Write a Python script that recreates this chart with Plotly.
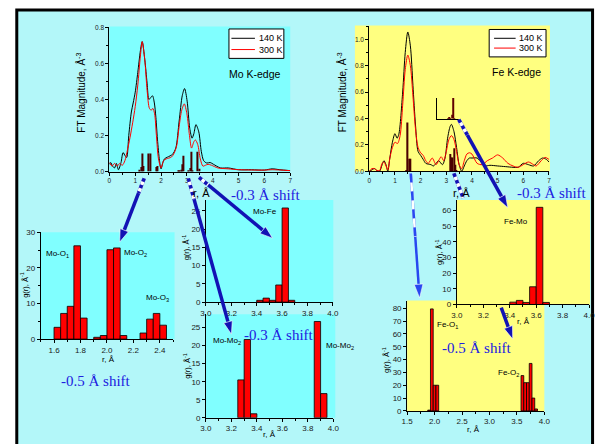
import math
import plotly.graph_objects as go

W, H = 602, 444
SANS = "Liberation Sans, Arial, sans-serif"
SERIF = "Liberation Serif, Times New Roman, serif"

# ---------------- DATA ----------------
# Mo K-edge FT magnitude
mo_r_140 = [0.0, 0.05, 0.12, 0.2, 0.27, 0.35, 0.45, 0.53, 0.62, 0.67, 0.75, 0.85, 0.92, 1.0, 1.1, 1.2, 1.27,
            1.37, 1.46, 1.53, 1.6, 1.67, 1.74, 1.8, 1.86, 1.94, 2.0, 2.07, 2.13, 2.25, 2.44, 2.57, 2.7, 2.82,
            2.91, 3.01, 3.11, 3.2, 3.27, 3.35, 3.46, 3.56, 3.65, 3.77, 3.9, 4.03, 4.3, 4.6, 5.0, 5.5, 6.0,
            6.3, 6.6, 7.0]
mo_ft_140 = [0.04, 0.05, 0.03, 0.02, 0.045, 0.01, 0.05, 0.105, 0.085, 0.078, 0.2, 0.33, 0.38, 0.44, 0.55, 0.67, 0.72,
             0.62, 0.49, 0.40, 0.41, 0.42, 0.38, 0.30, 0.18, 0.06, 0.015, 0.05, 0.07, 0.08, 0.095, 0.13, 0.28, 0.42,
             0.46, 0.39, 0.24, 0.185, 0.21, 0.26, 0.22, 0.11, 0.06, 0.047, 0.05, 0.04, 0.02, 0.02, 0.01, 0.01, 0.008,
             0.015, 0.01, 0.005]
mo_r_300 = [0.0, 0.1, 0.2, 0.3, 0.4, 0.5, 0.6, 0.7, 0.8, 0.9, 1.0, 1.1, 1.2, 1.27, 1.37, 1.46, 1.55, 1.62, 1.68,
            1.75, 1.82, 1.9, 2.0, 2.1, 2.2, 2.4, 2.5, 2.6, 2.7, 2.8, 2.9, 3.0, 3.1, 3.18, 3.27, 3.33, 3.42, 3.52,
            3.62, 3.72, 3.82, 3.95, 4.2, 4.6, 5.0, 6.0, 6.3, 7.0]
mo_ft_300 = [0.05, 0.03, 0.045, 0.03, 0.045, 0.035, 0.06, 0.12, 0.19, 0.27, 0.36, 0.48, 0.64, 0.72, 0.62, 0.45, 0.35,
             0.34, 0.35, 0.32, 0.2, 0.07, 0.02, 0.06, 0.07, 0.08, 0.1, 0.14, 0.25, 0.34, 0.375, 0.32, 0.2, 0.13,
             0.165, 0.175, 0.15, 0.07, 0.03, 0.035, 0.04, 0.035, 0.02, 0.015, 0.01, 0.008, 0.01, 0.005]
mo_bar_r = [1.175, 1.225, 1.275, 1.325, 1.525, 1.575, 1.825, 1.875, 2.675, 2.725, 2.775, 2.825, 2.875,
            3.075, 3.125, 3.175, 3.225, 3.425, 3.475]
mo_bar_h = [0.01, 0.025, 0.1, 0.03, 0.1, 0.1, 0.025, 0.03, 0.003, 0.003, 0.01, 0.04, 0.087,
            0.005, 0.02, 0.11, 0.005, 0.11, 0.015]

# Fe K-edge FT magnitude
fe_r_140 = [0.0, 0.1, 0.2, 0.3, 0.4, 0.5, 0.57, 0.65, 0.72, 0.8, 0.9, 1.0, 1.08, 1.15, 1.3, 1.4, 1.5, 1.6, 1.7,
            1.8, 1.9, 2.0, 2.1, 2.2, 2.4, 2.5, 2.6, 2.7, 2.85, 2.95, 3.05, 3.15, 3.2, 3.3, 3.4, 3.5, 3.6, 3.7,
            3.8, 3.9, 4.0, 4.2, 4.4, 4.5, 4.7, 5.0, 5.3, 5.6, 5.8, 6.0, 6.2, 6.4, 6.6, 6.75, 6.9, 7.0]
fe_ft_140 = [0.0, 0.01, 0.02, 0.005, 0.0, 0.05, 0.08, 0.05, 0.0, 0.1, 0.22, 0.285, 0.25, 0.28, 0.6, 0.9, 1.055,
             0.95, 0.65, 0.35, 0.15, 0.12, 0.09, 0.06, 0.05, 0.04, 0.06, 0.08, 0.05, 0.1, 0.25, 0.34, 0.355, 0.3,
             0.18, 0.05, 0.0, 0.04, 0.08, 0.1, 0.1, 0.1, 0.06, 0.04, 0.045, 0.04, 0.035, 0.03, 0.03, 0.06, 0.05,
             0.04, 0.08, 0.1, 0.09, 0.07]
fe_r_300 = [0.0, 0.1, 0.2, 0.3, 0.4, 0.5, 0.57, 0.65, 0.72, 0.8, 0.9, 1.0, 1.1, 1.2, 1.3, 1.4, 1.5, 1.6, 1.7,
            1.8, 1.9, 2.0, 2.1, 2.2, 2.3, 2.45, 2.6, 2.7, 2.8, 2.9, 3.0, 3.1, 3.2, 3.3, 3.4, 3.5, 3.6, 3.7,
            3.8, 3.9, 4.0, 4.2, 4.4, 4.6, 4.8, 5.0, 5.2, 5.4, 5.6, 5.8, 6.0, 6.2, 6.4, 6.5, 6.7, 6.85, 7.0]
fe_ft_300 = [0.0, 0.02, 0.02, 0.005, 0.005, 0.06, 0.07, 0.04, 0.01, 0.1, 0.18, 0.22, 0.21, 0.27, 0.5, 0.77, 0.88,
             0.8, 0.57, 0.32, 0.18, 0.14, 0.12, 0.08, 0.06, 0.1, 0.05, 0.08, 0.11, 0.08, 0.15, 0.24, 0.27, 0.24,
             0.15, 0.05, 0.02, 0.08, 0.13, 0.14, 0.13, 0.06, 0.05, 0.08, 0.1, 0.124, 0.1, 0.06, 0.04, 0.03, 0.05,
             0.07, 0.05, 0.04, 0.08, 0.105, 0.09]
fe_bar_r = [1.45, 1.5, 1.55, 1.6, 3.15, 3.2, 3.25, 3.3, 3.35, 3.4]
fe_bar_h = [0.003, 0.37, 0.095, 0.095, 0.13, 0.105, 0.105, 0.175, 0.05, 0.007]

# g(r) histograms
moo_r = [1.625, 1.675, 1.725, 1.775, 1.825, 1.925, 1.975, 2.025, 2.075, 2.125, 2.275, 2.325, 2.375, 2.425]
moo_g = [3.3, 7.2, 9.2, 26.2, 5.9, 0.5, 1.0, 25.1, 25.6, 1.0, 1.7, 5.6, 7.2, 3.9]
mofe_r = [3.425, 3.475, 3.525, 3.575, 3.625, 3.675]
mofe_g = [0.5, 1.1, 0.5, 4.7, 25.8, 0.5]
momo_r = [3.275, 3.325, 3.375, 3.875, 3.925]
momo_g = [10.5, 21.7, 1.1, 26.7, 6.7]
femo_r = [3.425, 3.475, 3.525, 3.575, 3.625, 3.675]
femo_g = [1.5, 2.6, 1.3, 11.3, 62.0, 1.3]
feo_r = [1.9, 1.95, 2.0, 2.05, 3.6, 3.65, 3.7, 3.75, 3.8, 3.85]
feo_g = [0.6, 79.5, 20.0, 20.0, 27.5, 22.0, 22.0, 37.0, 10.0, 1.5]

# ---------------- helpers ----------------
def X(px):
    return px / W


def Y(py):
    return 1 - py / H


CYAN_BG = "#b3f7f9"
CYAN = "#80ffff"
YELLOW = "#ffff80"
TICKC = "#1a1a1a"

fig = go.Figure()
layout = {}


def axname(i):
    return ("x", "y") if i == 1 else (f"x{i}", f"y{i}")


def add_axes(i, xpx, ypx, xr, yr, xdt, ydt, xmin, ymin, fs, xfmt, yfmt, labels=True):
    xn, yn = axname(i)
    xa = "xaxis" if i == 1 else f"xaxis{i}"
    ya = "yaxis" if i == 1 else f"yaxis{i}"
    common = dict(showline=True, linecolor="black", linewidth=1, ticks="outside" if labels else "",
                  ticklen=3, tickwidth=1, tickcolor="black", showgrid=False, zeroline=False,
                  tickfont=dict(family=SANS, size=fs, color=TICKC), fixedrange=True,
                  showticklabels=labels)
    xd = dict(common, domain=[X(xpx[0]), X(xpx[1])], range=xr, anchor=yn, dtick=xdt, tick0=0,
              tickformat=xfmt)
    yd = dict(common, domain=[Y(ypx[1]), Y(ypx[0])], range=yr, anchor=xn, dtick=ydt, tick0=0,
              tickformat=yfmt)
    if labels and xmin:
        xd["minor"] = dict(dtick=xmin, ticklen=2, ticks="outside", tickcolor="black", tick0=0)
    if labels and ymin:
        yd["minor"] = dict(dtick=ymin, ticklen=2, ticks="outside", tickcolor="black", tick0=0)
    layout[xa] = xd
    layout[ya] = yd
    return xn, yn


# axes
a1 = add_axes(1, (105.5, 290), (23.7, 171), [0, 7], [0, 0.8], 1, 0.2, 0.5, 0.1, 6.5, "d", ".1f")
a2 = add_axes(2, (370.7, 554), (22.5, 170.7), [0, 7], [0, 1.1], 1, 0.2, 0.5, 0.1, 6.5, "d", ".1f")
a3 = add_axes(3, (35.5, 170.5), (233, 342), [1.5, 2.5], [0, 30], 0.2, 10, 0.1, 5, 8, ".1f", "d")
a4 = add_axes(4, (204, 333.5), (200, 304.3), [3, 4], [0, 28], 0.2, 5, 0.1, None, 8, ".1f", "d")
a5 = add_axes(5, (204, 334), (316.7, 422.3), [3, 4], [0, 28.7], 0.2, 5, 0.1, None, 8, ".1f", "d")
a6 = add_axes(6, (460, 595), (200, 306.7), [3, 4], [0, 66.7], 0.2, 10, 0.1, None, 8, ".1f", "d")
a7 = add_axes(7, (409.3, 549.3), (302.7, 415.3), [1.5, 4.0], [0, 86], 0.5, 10, 0.25, None, 8, ".1f", "d")
a8 = add_axes(8, (440, 462), (96, 117), [3.0, 3.85], [0, 62], 0.2, 20, None, None, 5, ".1f", "d", labels=False)

# FT curves
for (xn, yn), r, v, col in [(a1, mo_r_140, mo_ft_140, "black"), (a1, mo_r_300, mo_ft_300, "red"),
                            (a2, fe_r_140, fe_ft_140, "black"), (a2, fe_r_300, fe_ft_300, "red")]:
    fig.add_trace(go.Scatter(x=r, y=v, mode="lines", line=dict(color=col, width=1, shape="spline",
                                                               smoothing=0.8),
                             xaxis=xn, yaxis=yn, showlegend=False, hoverinfo="skip"))

# FT bars
for (xn, yn), r, h in [(a1, mo_bar_r, mo_bar_h), (a2, fe_bar_r, fe_bar_h)]:
    fig.add_trace(go.Bar(x=r, y=h, width=0.045, marker=dict(color="#4a0000", line=dict(width=0)),
                         xaxis=xn, yaxis=yn, showlegend=False, hoverinfo="skip"))

# histograms
for (xn, yn), r, g in [(a3, moo_r, moo_g), (a4, mofe_r, mofe_g), (a5, momo_r, momo_g),
                       (a6, femo_r, femo_g), (a7, feo_r, feo_g)]:
    fig.add_trace(go.Bar(x=r, y=g, width=0.05,
                         marker=dict(color="#ff0000", line=dict(color="black", width=0.8)),
                         xaxis=xn, yaxis=yn, showlegend=False, hoverinfo="skip"))
# inset
fig.add_trace(go.Bar(x=femo_r, y=femo_g, width=0.04, marker=dict(color="#600000", line=dict(width=0)),
                     xaxis=a8[0], yaxis=a8[1], showlegend=False, hoverinfo="skip"))

# ---------------- shapes ----------------
shapes = []


def rect(x0, y0, x1, y1, fill, line=None, lw=0, layer="below"):
    shapes.append(dict(type="rect", xref="paper", yref="paper", x0=X(x0), x1=X(x1), y0=Y(y1), y1=Y(y0),
                       fillcolor=fill, line=dict(color=line or fill, width=lw), layer=layer))


def seg(x0, y0, x1, y1, color, w, dash="solid", layer="above"):
    shapes.append(dict(type="line", xref="paper", yref="paper", x0=X(x0), y0=Y(y0), x1=X(x1), y1=Y(y1),
                       line=dict(color=color, width=w, dash=dash), layer=layer))


rect(11, 6, 598.5, 452, CYAN_BG, "black", 3)
rect(105.5, 23, 290, 171, CYAN)
rect(356, 22, 555, 171, YELLOW)
rect(35.5, 233, 172, 342, CYAN)
rect(204, 200, 334, 304.3, CYAN)
rect(204, 316.7, 336, 422.3, CYAN)
rect(460, 200, 596, 306.7, YELLOW)
rect(409.3, 302.7, 549.3, 416, YELLOW)


def arrow(x0, y0, x1, y1, color, w, dashed=0.0, head=True, hl=13, hw=4.5, dashstyle="dot"):
    dx, dy = x1 - x0, y1 - y0
    L = math.hypot(dx, dy)
    ux, uy = dx / L, dy / L
    bx, by = (x1 - ux * hl, y1 - uy * hl) if head else (x1, y1)
    seg(x0, y0, bx, by, color, w)
    if dashed > 0:
        d = min(dashed, L - (hl if head else 0))
        ex, ey = x0 + ux * d, y0 + uy * d
        seg(x0, y0, ex, ey, "white", w)
        seg(x0, y0, ex, ey, color, w, dash=dashstyle)
    if head:
        nx, ny = -uy, ux
        p = [(x1, y1), (bx + nx * hw, by + ny * hw), (bx - nx * hw, by - ny * hw)]
        path = "M {} {} L {} {} L {} {} Z".format(X(p[0][0]), Y(p[0][1]), X(p[1][0]), Y(p[1][1]),
                                                  X(p[2][0]), Y(p[2][1]))
        shapes.append(dict(type="path", xref="paper", yref="paper", path=path, fillcolor=color,
                           line=dict(color="white", width=0.6), layer="above"))


BLUE = "#1212b4"
arrow(141, 178, 116, 243, BLUE, 3.5, dashed=16)
arrow(186, 178, 230, 337, BLUE, 3.5, dashed=22)
arrow(197, 177, 272, 239, BLUE, 3.5, dashed=12)
arrow(413, 173, 422, 300, "#2848f0", 2.5, dashed=65, hl=14, hw=4.5, dashstyle="dash")
arrow(462, 118, 512, 208, BLUE, 3.5, dashed=18)
arrow(457, 173, 466.5, 198, BLUE, 3.5, dashed=30, head=False)
arrow(505.3, 310, 517, 342, BLUE, 3.5, dashed=0, hl=13)

# legends (drawn boxes)
for (bx0, by0, bx1, by1, lx0, lx1, ly1, ly2, tx) in [(227.5, 25.5, 283.5, 55.5, 230, 254, 35, 46.5, 256.5),
                                                     (493, 26, 551, 54, 498, 520, 35, 45, 521.5)]:
    rect(bx0, by0, bx1, by1, "white", "black", 1, layer="above")
    seg(lx0, ly1, lx1, ly1, "black", 1)
    seg(lx0, ly2, lx1, ly2, "red", 1)

# ---------------- annotations ----------------
ann = []


def text(x, y, s, size=8, family=SANS, color="black", angle=0, xanchor="center"):
    ann.append(dict(x=X(x), y=Y(y), xref="paper", yref="paper", text=s, showarrow=False,
                    font=dict(family=family, size=size, color=color), textangle=angle,
                    xanchor=xanchor, yanchor="middle"))


text(256.5, 35, "140 K", 9, xanchor="left")
text(256.5, 46.5, "300 K", 9, xanchor="left")
text(521.5, 35, "140 K", 9, xanchor="left")
text(521.5, 45, "300 K", 9, xanchor="left")
text(254, 71, "Mo K-edge", 10.5)
text(521, 69, "Fe K-edge", 10.5)
text(77, 90, "FT Magnitude, Å<sup>-3</sup>", 10, angle=-90)
text(343, 90, "FT Magnitude, Å<sup>-3</sup>", 10, angle=-90)
text(199, 193, "r, Å", 11)
text(465, 193, "r, Å", 11)

SHIFT = "#2020e0"
text(265, 195, "-0.3 Å shift", 15, SERIF, SHIFT)
text(557, 193, "-0.3 Å shift", 15, SERIF, SHIFT)
text(279, 338, "-0.3 Å shift", 15, SERIF, SHIFT)
text(92, 385, "-0.5 Å shift", 15, SERIF, SHIFT)
text(481, 351, "-0.5 Å shift", 15, SERIF, SHIFT)

text(53, 255, "Mo-O<sub>1</sub>", 8)
text(132, 254, "Mo-O<sub>2</sub>", 8)
text(155, 300, "Mo-O<sub>3</sub>", 8)
text(264, 212, "Mo-Fe", 8)
text(225, 344, "Mo-Mo<sub>2</sub>", 8)
text(341, 349, "Mo-Mo<sub>2</sub>", 8)
text(520, 222, "Fe-Mo", 8)
text(450, 328, "Fe-O<sub>1</sub>", 8)
text(513, 377, "Fe-O<sub>2</sub>", 8)

GR = "g(r), Å<sup>-1</sup>"
text(19, 287, GR, 7.5, angle=-90)
text(184, 248, GR, 7.5, angle=-90)
text(184, 369, GR, 7.5, angle=-90)
text(442, 253, GR, 7.5, angle=-90)
text(387, 363, GR, 7.5, angle=-90)
text(105, 362.5, "r, Å", 8)
text(269, 439, "r, Å", 8)
text(528, 324, "r, Å", 8)
text(477, 434, "r, Å", 8)

fig.update_layout(width=W, height=H, margin=dict(l=0, r=0, t=0, b=0), paper_bgcolor="white",
                  plot_bgcolor="rgba(0,0,0,0)", showlegend=False, shapes=shapes, annotations=ann,
                  barmode="overlay", **layout)

fig.write_html("out.html", config={"displayModeBar": False})
